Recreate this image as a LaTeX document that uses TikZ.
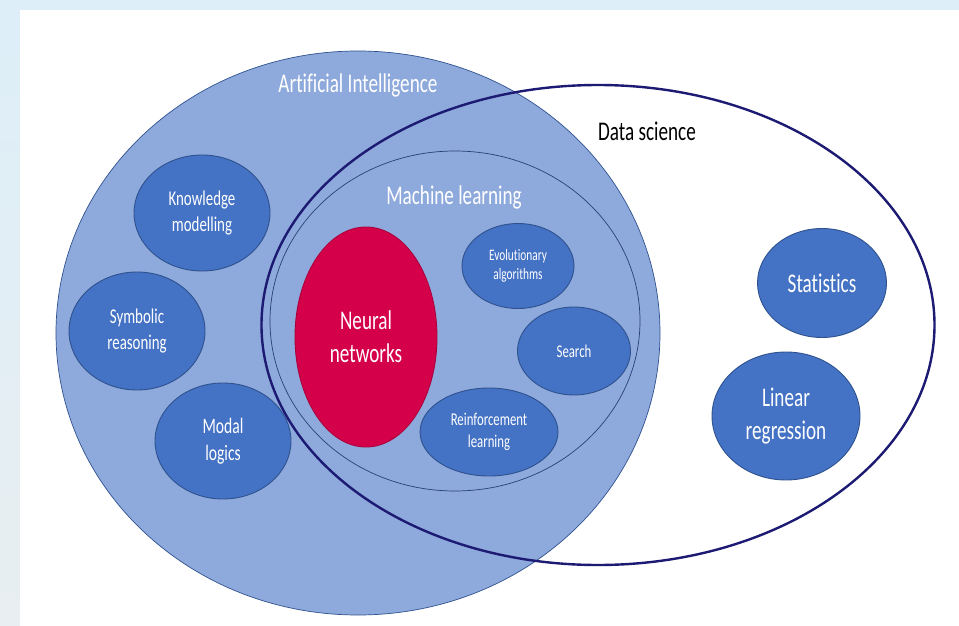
\documentclass[tikz,border=0pt]{standalone}
\usepackage{fontspec}
\setmainfont{Carlito}[FakeStretch=0.71,RawFeature={-liga;-clig;-dlig;-calt}]
\usetikzlibrary{shapes.geometric,positioning}

\definecolor{bgblue}{HTML}{DDEEF8}
\definecolor{bggrey}{HTML}{E8EEF1}
\definecolor{aiblue}{HTML}{8EA9DB}
\definecolor{topic}{HTML}{4472C4}
\definecolor{topicline}{HTML}{2F528F}
\definecolor{neural}{HTML}{D5004A}
\definecolor{navy}{HTML}{1C1A72}

\newcommand{\fsz}[1]{\fontsize{#1}{1.22\dimexpr#1pt\relax}\selectfont}

\begin{document}
\begin{tikzpicture}[x=1pt,y=-1pt,
    field/.style={ellipse,inner sep=0pt,draw=topicline,line width=0.7pt},
    topic/.style={field,fill=topic,text=white,align=center,line width=0.9pt},
    title/.style={inner sep=0pt,font=\fsz{27}}]
  % page frame
  \useasboundingbox (0,0) rectangle (959,626);
  \fill[bgblue] (0,0) rectangle (959,626);
  \shade[top color=bgblue,bottom color=bggrey] (0,10) rectangle (20,626);
  \fill[white] (20,10) rectangle (959,626);

  % the big sets
  \node[field,fill=aiblue,minimum width=604pt,minimum height=564pt] (ai) at (358,333) {};
  \node[field,fill=aiblue,draw=topicline!80!black,minimum width=370pt,minimum height=340pt] (ml) at (455,321) {};

  % AI topics
  \node[topic,font=\fsz{21},minimum width=136pt,minimum height=116pt] (know) at (202,213) {Knowledge\\modelling};
  \node[topic,font=\fsz{21},minimum width=136pt,minimum height=118pt] (symb) at (137,331) {Symbolic\\reasoning};
  \node[topic,font=\fsz{22},minimum width=136pt,minimum height=116pt] (modal) at (223,441) {Modal\\logics};

  % machine learning topics
  \node[topic,fill=neural,draw=neural!80!black,font=\fsz{27},minimum width=142pt,minimum height=220pt] (nn) at (366,337) {Neural\\networks};
  \node[topic,font=\fsz{16},minimum width=112pt,minimum height=85pt] (evo) at (518,266) {Evolutionary\\algorithms};
  \node[topic,font=\fsz{18},minimum width=113pt,minimum height=88pt] (search) at (574,351) {Search};
  \node[topic,font=\fsz{18},minimum width=138pt,minimum height=88pt] (reinf) at (489,432) {Reinforcement\\learning};

  % data science
  \node[ellipse,inner sep=0pt,draw=navy,line width=2.4pt,minimum width=673pt,minimum height=480pt] (ds) at (598,325) {};
  \node[topic,font=\fsz{27},minimum width=129pt,minimum height=109pt] (stats) at (822,283) {Statistics};
  \node[topic,font=\fsz{27},minimum width=148pt,minimum height=128pt] (linreg) at (786,416) {Linear\\regression};

  % set titles
  \node[title,text=white] (ai_t) at (358,85) {Artificial Intelligence};
  \node[title,text=white] (ml_t) at (454,197) {Machine learning};
  \node[title] (ds_t) at (647,131) {Data science};
\end{tikzpicture}
\end{document}
